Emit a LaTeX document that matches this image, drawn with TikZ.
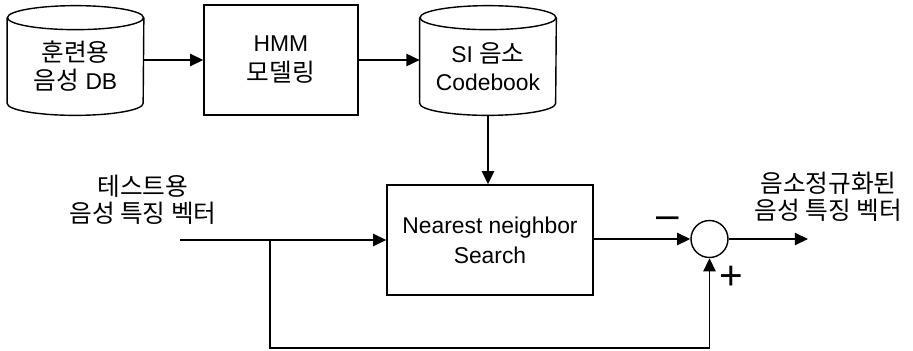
\documentclass[tikz,border=0pt]{standalone}
\usepackage{fontspec}
\setmainfont{Liberation Sans}
\newfontfamily\kr[Scale=1.08]{Noto Sans CJK KR}
\usetikzlibrary{arrows.meta,positioning,calc}
\tikzset{
  wire/.style={line width=0.8pt},
  flow/.style={-{Triangle[length=7.5pt,width=7pt]}, line width=0.8pt},
  blk/.style={draw, line width=0.8pt, align=center, inner sep=0pt, font=\fontsize{13}{17}\selectfont},
  dbtext/.style={align=center, inner sep=0pt, minimum width=2.72cm, minimum height=1.46cm, font=\fontsize{13}{16}\selectfont},
  sumnode/.style={circle, draw, line width=0.8pt, minimum size=0.74cm, inner sep=0pt},
  lbl/.style={align=center, font=\fontsize{13}{15.5}\selectfont},
  sgn/.style={font=\fontsize{23}{24}\selectfont, inner sep=0pt},
}
\newcommand{\drum}[1]{% cylinder drawn round node #1
  \draw[wire] ([yshift=.24cm]#1.north west) -- (#1.south west)
    arc[start angle=180, end angle=360, x radius=1.36cm, y radius=.24cm]
    -- ([yshift=.24cm]#1.north east);
  \draw[wire] ([yshift=.24cm]#1.north) ellipse[x radius=1.36cm, y radius=.24cm];}

\begin{document}
\begin{tikzpicture}
  \useasboundingbox (0,0) rectangle (18.26,7);
  % training path
  \node[dbtext] (train) at (1.51,5.67) {{\kr 훈련용}\\{\kr 음성} DB};
  \drum{train}
  \node[blk, minimum width=3.08cm, minimum height=2.2cm] (hmm) at (5.62,5.8) {HMM\\{\kr 모델링}};
  \node[dbtext] (cbook) at (9.76,5.67) {SI {\kr 음소}\\Codebook};
  \drum{cbook}
  \draw[flow] (train.east |- hmm) -- (hmm);
  \draw[flow] (hmm) -- (cbook.west |- hmm);
  % test path
  \node[blk, minimum width=4.12cm, minimum height=2.2cm] (nn) at (9.8,2.2) {Nearest neighbor\\Search};
  \node[sumnode] (sum) at (14.19,2.22) {};
  \coordinate (in) at (3.6,2.2);
  \coordinate (split) at (5.4,2.2);
  \coordinate (loop) at (5.4,0.04);
  \coordinate (out) at (16.16,2.22);
  \draw[flow] ([yshift=-.24cm]cbook.south) -- (cbook.south |- nn.north);
  \draw[flow] (in) -- (nn);
  \draw[flow] (split) -- (loop) -| (sum.south);
  \draw[flow] (nn.east |- sum) -- (sum);
  \draw[flow] (sum) -- (out);
  \node[sgn] (minus) at (13.36,2.54) {–};
  \node[sgn] (plus) at (14.62,1.44) {+};
  \node[lbl] (inlbl) at (2.86,3.0) {{\kr 테스트용}\\{\kr 음성 특징 벡터}};
  \node[lbl] (outlbl) at (16.57,3.07) {{\kr 음소정규화된}\\{\kr 음성 특징 벡터}};
\end{tikzpicture}
\end{document}
